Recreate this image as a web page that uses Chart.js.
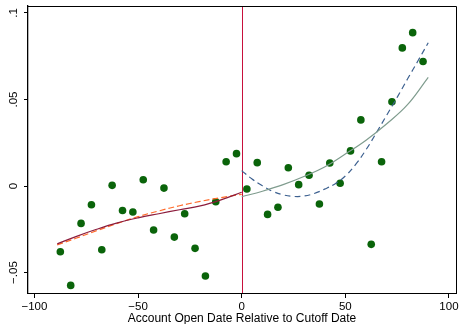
<!DOCTYPE html>
<html>
<head>
<meta charset="utf-8">
<script src="https://cdn.jsdelivr.net/npm/chart.js"></script>
<style>
  html, body { margin: 0; padding: 0; background: #fff; }
  #wrap { width: 461px; height: 324px; }
</style>
</head>
<body>
<div id="wrap"><canvas id="grafico"></canvas></div>
<script>
// binned means, 5-day bins
const binX = [-87.5, -82.5, -77.5, -72.5, -67.5, -62.5, -57.5, -52.5, -47.5, -42.5, -37.5, -32.5,
  -27.5, -22.5, -17.5, -12.5, -7.5, -2.5, 2.5, 7.5, 12.5, 17.5, 22.5, 27.5,
  32.5, 37.5, 42.5, 47.5, 52.5, 57.5, 62.5, 67.5, 72.5, 77.5, 82.5, 87.5];
const binY = [-0.038, -0.0574, -0.0216, -0.0108, -0.0368, 0.0004, -0.0141, -0.015, 0.0036, -0.0254, -0.0012, -0.0295,
  -0.016, -0.036, -0.052, -0.0091, 0.014, 0.0187, -0.0017, 0.0135, -0.0164, -0.0123, 0.0106, 0.0008,
  0.0062, -0.0104, 0.0133, 0.0016, 0.0203, 0.0382, -0.0337, 0.014, 0.0487, 0.0798, 0.0886, 0.0719];

// fitted lines, left of cutoff
const leftX = [-89, -80, -70, -60, -50, -40, -30, -20, -10, 0];
const leftSolidY = [-0.0334, -0.0292, -0.0250, -0.0213, -0.0184, -0.0160, -0.0137, -0.0115, -0.0080, -0.0036];
const leftDashY = [-0.0340, -0.0302, -0.0258, -0.0216, -0.0177, -0.0144, -0.0114, -0.0089, -0.0067, -0.0048];

// fitted lines, right of cutoff
const rightX = [0, 10, 20, 30, 40, 50, 60, 70, 80, 90];
const rightSolidY = [-0.0062, -0.0030, 0.0008, 0.0055, 0.0110, 0.0185, 0.0265, 0.0360, 0.0470, 0.0628];
const rightDashX = [0, 5, 10, 15, 20, 25, 30, 35, 40, 45, 50, 55, 60, 65, 70, 75, 80, 85, 90];
const rightDashY = [0.0089, 0.0040, 0.0001, -0.0031, -0.0051, -0.0060, -0.0058, -0.0043, -0.0018, 0.0012, 0.0058, 0.0125, 0.0210, 0.0308, 0.0410, 0.0512, 0.0618, 0.0722, 0.0828];

const xTicks = [-100, -50, 0, 50, 100];
const xTickLabels = ['\u2212100', '\u221250', '0', '50', '100'];
const yTicks = [-0.05, 0, 0.05, 0.1];
const yTickLabels = ['\u2212.05', '0', '.05', '.1'];
const cutoff = 0;

const pts = (xs, ys) => xs.map((x, i) => ({ x: x, y: ys[i] }));
const FONT = '"Liberation Sans", Arial, sans-serif';

// box on top/right, cutoff line, rotated y labels
const extras = {
  id: 'extras',
  beforeDatasetsDraw(chart) {
    const { ctx, chartArea: a, scales } = chart;
    const xc = Math.round(scales.x.getPixelForValue(cutoff)) + 0.5;
    ctx.save();
    ctx.strokeStyle = '#c8103c';
    ctx.lineWidth = 1;
    ctx.beginPath();
    ctx.moveTo(xc, a.top);
    ctx.lineTo(xc, a.bottom);
    ctx.stroke();
    ctx.restore();
  },
  afterDraw(chart) {
    const { ctx, chartArea: a, scales } = chart;
    ctx.save();
    ctx.strokeStyle = '#000';
    ctx.lineWidth = 1;
    ctx.beginPath();
    ctx.moveTo(a.left, a.top + 0.5);
    ctx.lineTo(a.right + 0.5, a.top + 0.5);
    ctx.lineTo(a.right + 0.5, a.bottom);
    ctx.stroke();
    ctx.fillStyle = '#000';
    ctx.font = '11.5px ' + FONT;
    ctx.textAlign = 'center';
    ctx.textBaseline = 'middle';
    yTicks.forEach((v, i) => {
      const y = scales.y.getPixelForValue(v);
      ctx.save();
      ctx.translate(14, y);
      ctx.rotate(-Math.PI / 2);
      ctx.fillText(yTickLabels[i], 0, 0);
      ctx.restore();
    });
    ctx.restore();
  }
};

new Chart(document.getElementById('grafico'), {
  type: 'scatter',
  data: {
    datasets: [
      { type: 'line', data: pts(leftX, leftSolidY), borderColor: '#8c1c3c', borderWidth: 1.2, pointRadius: 0, tension: 0.4, order: 1 },
      { type: 'line', data: pts(leftX, leftDashY), borderColor: '#ff6a2a', borderWidth: 1.2, borderDash: [6, 3], pointRadius: 0, tension: 0.4, order: 1 },
      { type: 'line', data: pts(rightX, rightSolidY), borderColor: '#7f9c8e', borderWidth: 1.2, pointRadius: 0, tension: 0.4, order: 1 },
      { type: 'line', data: pts(rightDashX, rightDashY), borderColor: '#3d6190', borderWidth: 1.2, borderDash: [6, 4], pointRadius: 0, tension: 0.4, order: 1 },
      { data: pts(binX, binY), backgroundColor: '#0a640a', borderWidth: 0, pointRadius: 3.8, order: 2 }
    ]
  },
  options: {
    responsive: true,
    maintainAspectRatio: false,
    animation: false,
    layout: { padding: { top: 6, right: 5, left: 0, bottom: 0 } },
    plugins: { legend: { display: false }, tooltip: { enabled: false } },
    scales: {
      x: {
        type: 'linear', min: -103.1, max: 103.4,
        afterBuildTicks: s => { s.ticks = xTicks.map(v => ({ value: v })); },
        afterFit: s => { s.height = 31; },
        grid: { drawOnChartArea: false, drawTicks: true, tickLength: 5, color: '#000' },
        border: { color: '#000', width: 1 },
        ticks: {
          color: '#000', padding: 2, maxRotation: 0, autoSkip: false,
          font: { family: FONT, size: 11.5 },
          callback: (v) => xTickLabels[xTicks.indexOf(v)]
        },
        title: {
          display: true, text: 'Account Open Date Relative to Cutoff Date', color: '#000',
          font: { family: FONT, size: 12 }, padding: { top: 0, bottom: -2 }
        }
      },
      y: {
        type: 'linear', min: -0.0618, max: 0.104,
        afterBuildTicks: s => { s.ticks = yTicks.map(v => ({ value: v })); },
        afterFit: s => { s.width = 28; },
        grid: { drawOnChartArea: false, drawTicks: true, tickLength: 4, color: '#000' },
        border: { color: '#000', width: 1.3 },
        ticks: { display: false }
      }
    }
  },
  plugins: [extras]
});
</script>
</body>
</html>
